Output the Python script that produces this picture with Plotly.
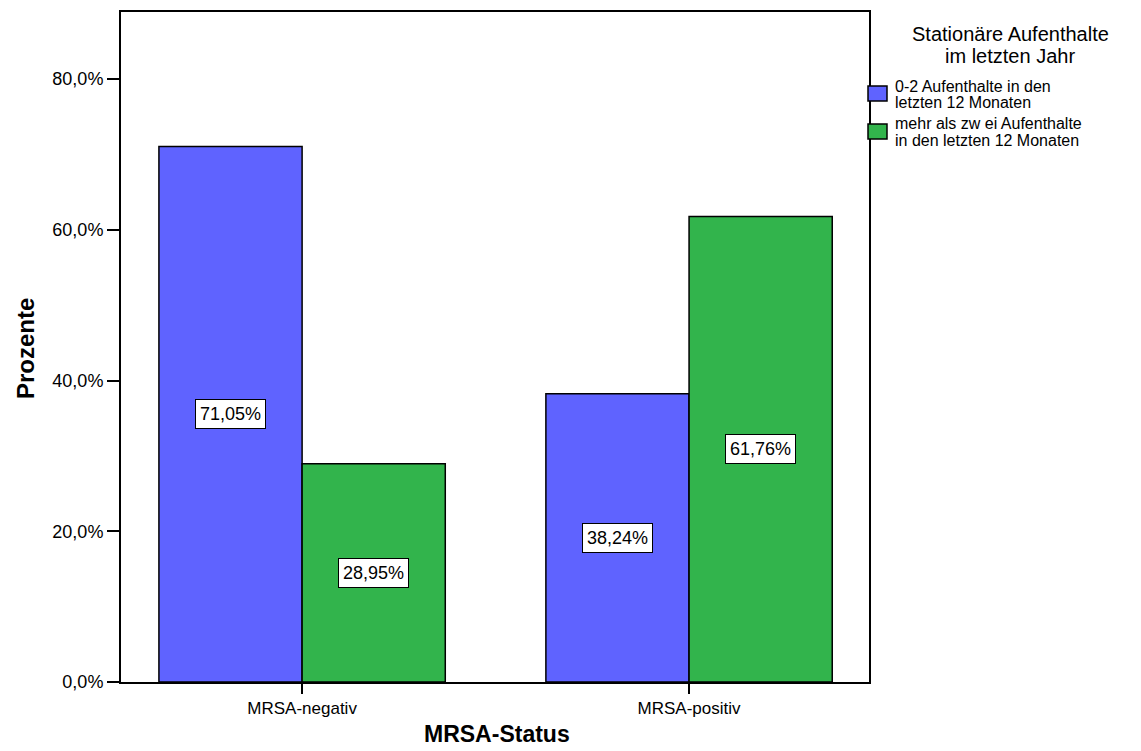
import plotly.graph_objects as go

categories = ["MRSA-negativ", "MRSA-positiv"]
series_names = ["0-2 Aufenthalte in den letzten 12 Monaten",
                "mehr als zwei Aufenthalte in den letzten 12 Monaten"]
legend_lines = [
    ["0-2 Aufenthalte in den", "letzten 12 Monaten"],
    ["mehr als zw ei Aufenthalte", "in den letzten 12 Monaten"],
]
legend_title = ["Stationäre Aufenthalte", "im letzten Jahr"]
values_low = [71.05, 38.24]
values_high = [28.95, 61.76]
series_colors = ["#5F63FF", "#32B44C"]
y_ticks = [0, 20, 40, 60, 80]
y_ticktext = [f"{t:.1f}%".replace(".", ",") for t in y_ticks]

FONT = "Arial, Liberation Sans, sans-serif"
bargap = 0.26

# plot area in pixels
L, R, T, B = 121, 869, 12, 682
W, H = R - L, B - T


def px(x):
    return (x - L) / W


def py(y):
    return (B - y) / H


fig = go.Figure()
for name, vals, col in zip(series_names, [values_low, values_high], series_colors):
    fig.add_trace(go.Bar(
        x=categories, y=vals, name=name,
        marker=dict(color=col, line=dict(color="black", width=1.5)),
    ))

# value labels in white boxes at the middle of each bar
group_w = 1 - bargap
for s, vals in enumerate([values_low, values_high]):
    offset = (-0.25 + 0.5 * s) * group_w
    for i, v in enumerate(vals):
        fig.add_annotation(
            x=i + offset, y=v / 2, xref="x", yref="y",
            text=f"{v:.2f}%".replace(".", ","),
            showarrow=False,
            font=dict(family=FONT, size=18, color="black"),
            bgcolor="white", bordercolor="black", borderwidth=1, borderpad=4,
        )

# legend drawn by hand: centered title, coloured squares and two-line labels
for k, line in enumerate(legend_title):
    fig.add_annotation(x=px(1010), y=py(34 + 22 * k), xref="paper", yref="paper",
                       text=line, showarrow=False, xanchor="center", yanchor="middle",
                       font=dict(family=FONT, size=20, color="black"))
for s, (lines, col) in enumerate(zip(legend_lines, series_colors)):
    top = 86 + 38 * s
    fig.add_shape(type="rect", xref="paper", yref="paper",
                  x0=px(868), x1=px(887), y0=py(top), y1=py(top + 15),
                  fillcolor=col, line=dict(color="black", width=1.5))
    for k, line in enumerate(lines):
        fig.add_annotation(x=px(893), y=py(top + 16 * k), xref="paper", yref="paper",
                           text=line, showarrow=False, xanchor="left", yanchor="middle",
                           font=dict(family=FONT, size=16, color="black"))

# axis titles
fig.add_annotation(x=px(497), y=py(734), xref="paper", yref="paper",
                   text="<b>MRSA-Status</b>", showarrow=False,
                   xanchor="center", yanchor="middle",
                   font=dict(family=FONT, size=23, color="black"))
fig.add_annotation(x=px(25), y=py(348), xref="paper", yref="paper",
                   text="<b>Prozente</b>", showarrow=False, textangle=-90,
                   xanchor="center", yanchor="middle",
                   font=dict(family=FONT, size=24, color="black"))

fig.update_layout(
    width=1141, height=751,
    margin=dict(l=L, r=1141 - R, t=T, b=751 - B),
    paper_bgcolor="white", plot_bgcolor="white",
    barmode="group", bargap=bargap, bargroupgap=0,
    font=dict(family=FONT, color="black"),
    showlegend=False,
    xaxis=dict(
        range=[-0.468, 1.465], automargin=False,
        showline=True, linecolor="black", linewidth=2, mirror=True,
        ticks="outside", ticklen=10, tickwidth=2, tickcolor="black",
        tickfont=dict(family=FONT, size=17),
        showgrid=False,
    ),
    yaxis=dict(
        range=[0, 88.9], automargin=False,
        tickvals=y_ticks, ticktext=y_ticktext,
        showline=True, linecolor="black", linewidth=2, mirror=True,
        ticks="outside", ticklen=12, tickwidth=2, tickcolor="black",
        tickfont=dict(family=FONT, size=18),
        showgrid=False, zeroline=False,
    ),
)

fig.write_html("out.html")
